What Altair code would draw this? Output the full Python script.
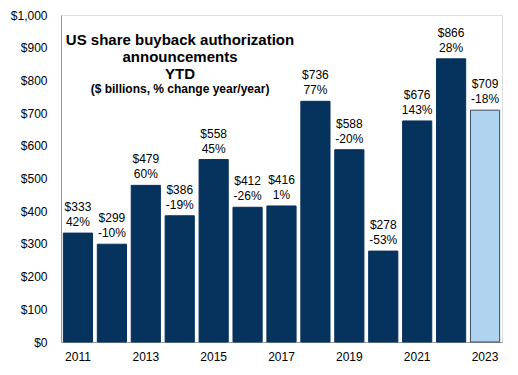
import altair as alt
import pandas as pd

years = [2011, 2012, 2013, 2014, 2015, 2016, 2017, 2018, 2019, 2020, 2021, 2022, 2023]
values = [333, 299, 479, 386, 558, 412, 416, 736, 588, 278, 676, 866, 709]
changes = ["42%", "-10%", "60%", "-19%", "45%", "-26%", "1%", "77%", "-20%", "-53%", "143%", "28%", "-18%"]
is_ytd = [False] * 12 + [True]

title_main = "US share buyback authorization\nannouncements\nYTD"
title_sub = "($ billions, % change year/year)"

df = pd.DataFrame({
    "year": [str(y) for y in years],
    "value": values,
    "vlabel": [f"${v}" for v in values],
    "clabel": changes,
    "ytd": ["YTD" if t else "Full" for t in is_ytd],
})

W, H = 441, 327
FONT = "Liberation Sans"

x = alt.X("year:N", sort=None, title=None,
          scale=alt.Scale(paddingInner=0.14, paddingOuter=0.07),
          axis=alt.Axis(labelAngle=0, ticks=False, domain=True, domainColor="#999999",
                        labelFontSize=12, labelFont=FONT, labelColor="#000000", labelPadding=9,
                        labelExpr="toNumber(datum.value) % 2 == 1 ? datum.label : ''"))
y = alt.Y("value:Q", title=None,
          scale=alt.Scale(domain=[0, 1000], nice=False),
          axis=alt.Axis(values=list(range(0, 1001, 100)), format="$,.0f", grid=False, ticks=False,
                        domain=True, domainColor="#999999", labelFontSize=12, labelFont=FONT,
                        labelColor="#000000", labelPadding=14))

base = alt.Chart(df)

bars = base.mark_bar(strokeWidth=1).encode(
    x=x, y=y,
    color=alt.Color("ytd:N", scale=alt.Scale(domain=["Full", "YTD"], range=["#06325E", "#B0D4EF"]), legend=None),
    stroke=alt.Stroke("ytd:N", scale=alt.Scale(domain=["Full", "YTD"], range=["#06325E", "#3A4A5A"]), legend=None),
)

vlabels = base.mark_text(baseline="middle", align="center", dy=-26, fontSize=12, font=FONT,
                         color="#000000").encode(x=x, y=y, text="vlabel:N")
clabels = base.mark_text(baseline="middle", align="center", dy=-11, fontSize=12, font=FONT,
                         color="#000000").encode(x=x, y=y, text="clabel:N")

title1 = alt.Chart(pd.DataFrame({"t": [title_main]})).mark_text(
    align="center", baseline="top", fontSize=15, fontWeight="bold", font=FONT, color="#000000",
    lineBreak="\n", lineHeight=17).encode(
    x=alt.value(119), y=alt.value(18), text="t:N")

title2 = alt.Chart(pd.DataFrame({"t": [title_sub]})).mark_text(
    align="center", baseline="middle", fontSize=12, fontWeight="bold", font=FONT, color="#000000").encode(
    x=alt.value(119), y=alt.value(74), text="t:N")

chart = alt.layer(bars, vlabels, clabels, title1, title2).properties(
    width=W, height=H,
    autosize=alt.AutoSizeParams(type="none"),
    padding={"left": 53, "top": 7, "right": 8, "bottom": 20},
).configure_view(stroke="#999999", strokeWidth=1).configure(background="#ffffff")

chart.save("out.html", embed_options={"renderer": "svg", "actions": False})
